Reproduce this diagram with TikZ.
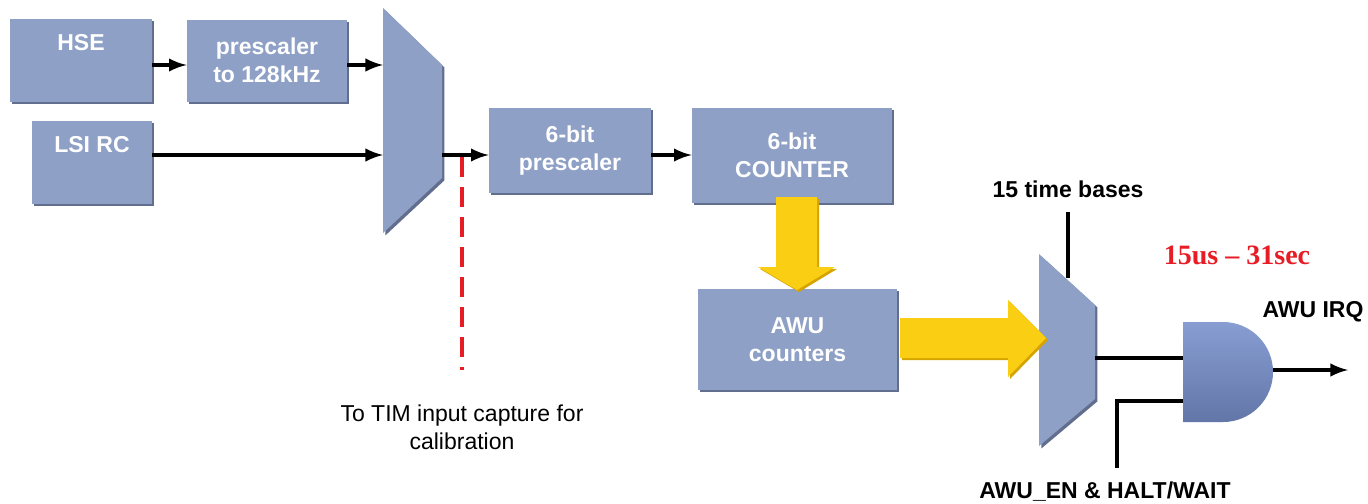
\documentclass[tikz,border=0pt]{standalone}
\usepackage{fontspec}
\setmainfont{Liberation Sans}
\newfontfamily\rangefont{Liberation Serif}
\usetikzlibrary{shadows}

\definecolor{awublue}{RGB}{142,160,198}
\definecolor{awuedge}{RGB}{98,110,142}
\definecolor{awuyellow}{RGB}{250,206,18}
\definecolor{awuyelldark}{RGB}{214,164,0}
\definecolor{gatetop}{RGB}{136,157,210}
\definecolor{gatebot}{RGB}{98,118,168}
\definecolor{calred}{RGB}{232,28,36}

\newcommand{\blkfont}{\fontsize{11.5}{14}\selectfont\bfseries}
\newcommand{\txtfont}{\fontsize{11.5}{14}\selectfont}

\tikzset{
    blk/.style={fill=awublue, text=white, font=\blkfont, align=center, inner sep=0pt,
        drop shadow={shadow xshift=1.2pt, shadow yshift=-1.2pt, fill=awuedge, opacity=1}},
    muxshape/.style={fill=awublue,
        preaction={fill=awuedge, transform canvas={shift={(1.2pt,-1.2pt)}}}},
    wire/.style={line width=2pt},
    lbl/.style={font=\blkfont, inner sep=0pt},
    yarrow/.style={fill=awuyellow,
        preaction={fill=awuyelldark, transform canvas={shift={(1pt,-1pt)}}}}
}

\begin{document}
\begin{tikzpicture}[x=0.5pt,y=-0.5pt,>=latex]
    \useasboundingbox[fill=white] (0,0) rectangle (1368,503);

    % clock sources and prescalers
    \node[blk, minimum width=71pt, minimum height=41.5pt] (hse) at (81,60.5) {HSE\\\strut};
    \node[blk, minimum width=80pt, minimum height=41pt] (pre128) at (267,60.5) {prescaler\\to 128kHz};
    \node[blk, minimum width=60pt, minimum height=41.5pt] (lsi) at (92,162.5) {LSI RC\\\strut};
    \node[blk, minimum width=81pt, minimum height=42.5pt] (pre6) at (570,150.5) {6-bit\\prescaler};
    \node[blk, minimum width=100pt, minimum height=47.5pt] (cnt) at (792,155.5) {6-bit\\COUNTER};
    \node[blk, minimum width=99.5pt, minimum height=50.5pt] (awu) at (797.5,339.5) {AWU\\counters};

    % clock selection mux
    \path[muxshape] (383,8) -- (442,65) -- (442,178) -- (383,233) -- cycle;
    \coordinate (m1in1) at (383,65);
    \coordinate (m1in2) at (383,155);
    \coordinate (m1out) at (442,155);

    % time base mux
    \path[muxshape] (1039,254) -- (1095,305) -- (1095,399) -- (1039,446) -- cycle;
    \coordinate (m2sel) at (1068,278);
    \coordinate (m2out) at (1095,358);

    % and gate
    \shade[top color=gatetop, bottom color=gatebot]
        (1183,322) -- (1223,322) arc[start angle=90, end angle=-90, radius=25pt]
        -- (1183,422) -- cycle;
    \coordinate (gin1) at (1183,358);
    \coordinate (gin2) at (1183,401);
    \coordinate (gout) at (1273,370);

    % signal wires
    \draw[wire,->] (hse.east |- m1in1) -- (pre128.west |- m1in1);
    \draw[wire,->] (pre128.east |- m1in1) -- (m1in1);
    \draw[wire,->] (lsi.east |- m1in2) -- (m1in2);
    \draw[wire,->] (m1out) -- (pre6.west |- m1out);
    \draw[wire,->] (pre6.east |- m1out) -- (cnt.west |- m1out);
    \draw[wire] (m2out) -- (gin1);
    \draw[wire,->] (gout) -- ++(75,0) coordinate (irq);

    % calibration tap
    \coordinate (tap) at (462,157);
    \draw[calred, line width=2pt, dash pattern=on 10pt off 5pt] (tap) -- ++(0,213) coordinate (tapend);
    \node[font=\txtfont, align=center, inner sep=0pt] (tim) at (462,427.5) {To TIM input capture for\\calibration};

    % wide data arrows
    \path[yarrow] (776,197) -- (817,197) -- (817,267) -- (835,267) -- (797,290)
        -- (758,267) -- (776,267) -- cycle;
    \path[yarrow] (900,318) -- (1008,318) -- (1008,300) -- (1046,338) -- (1008,377)
        -- (1008,358) -- (900,358) -- cycle;

    % select and enable inputs
    \node[lbl] (tb) at (1068,189) {15 time bases};
    \draw[wire] (1068,212) -- (m2sel);
    \draw[wire] (gin2) -- (1117,401) -- (1117,468) coordinate (enend);
    \node[lbl] (en) at (1105,492) {AWU\_EN \& HALT/WAIT};

    % output labels
    \node[lbl] (irqlbl) at (1313,312) {AWU IRQ};
    \node[font=\rangefont\fontsize{14}{16}\selectfont\bfseries, text=calred, inner sep=0pt] (range) at (1237,255) {15us \textendash{} 31sec};
\end{tikzpicture}
\end{document}
